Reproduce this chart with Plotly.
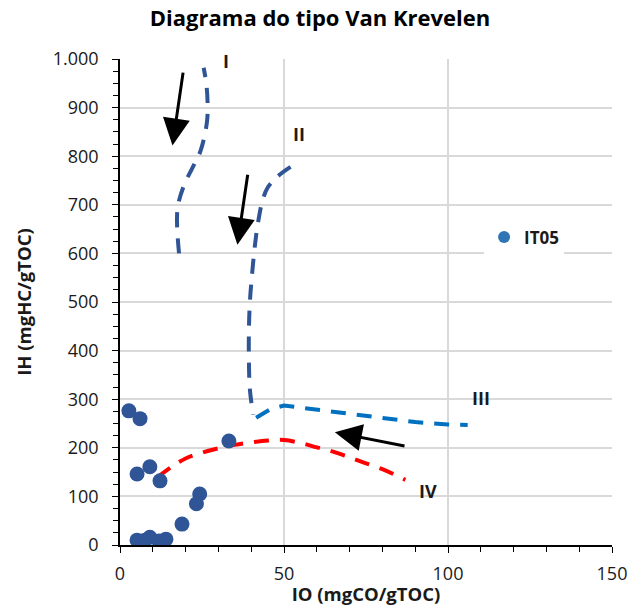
import plotly.graph_objects as go

# Sample data (IT05)
io_vals = [2.7, 6.1, 5.2, 9.1, 12.2, 33.2, 24.3, 23.3, 18.9, 5.2, 7.6, 9.1, 11.9, 14.0]
ih_vals = [276, 260, 146, 161, 132, 214, 105, 85, 43, 10, 10, 16, 8, 12]

# Kerogen type curves
curve1_x = [18, 17.5, 19.5, 22, 24.5, 26.5, 26.7, 26.3, 25.5]
curve1_y = [600, 690, 740, 775, 810, 870, 910, 950, 982]
curve2_x = [52, 48, 45, 43.5, 42, 41.2, 40.3, 39.6, 39.3, 39.3, 39.6, 40.6]
curve2_y = [778, 758, 735, 710, 660, 620, 560, 500, 440, 380, 320, 268]
curve3_x = [41.5, 46, 50, 60, 70, 80, 90, 100, 106]
curve3_y = [262, 280, 287, 279, 270, 261, 253, 248, 247]
curve4_x = [11.5, 16, 20, 25, 30, 35, 40, 45, 50, 55, 60, 65, 70, 75, 80, 87]
curve4_y = [140, 162, 178, 190, 199, 206, 211, 215, 216, 210, 201, 192, 180, 168, 156, 134]

curve_labels = ["I", "II", "III", "IV"]
label_x = [32.2, 54.5, 110, 94]
label_y = [996, 845, 303, 111]

# Arrows: (tail_x, tail_y, tip_x, tip_y)
arrow_tail_x = [19.3, 39.0, 87.2]
arrow_tail_y = [975, 765, 203]
arrow_tip_x = [16.0, 35.8, 65.5]
arrow_tip_y = [822, 618, 232]

x_tickvals = [0, 50, 100, 150]
x_ticktext = ["0", "50", "100", "150"]
y_tickvals = [0, 100, 200, 300, 400, 500, 600, 700, 800, 900, 1000]
y_ticktext = ["0", "100", "200", "300", "400", "500", "600", "700", "800", "900", "1.000"]

FONT = "Open Sans"
DASH = "15px,11px"

fig = go.Figure()

fig.add_trace(go.Scatter(x=curve1_x, y=curve1_y, mode="lines", showlegend=False,
                         line=dict(color="#2F5597", width=4, dash=DASH, shape="spline")))
fig.add_trace(go.Scatter(x=curve2_x, y=curve2_y, mode="lines", showlegend=False,
                         line=dict(color="#2F5597", width=4, dash=DASH, shape="spline")))
fig.add_trace(go.Scatter(x=curve3_x, y=curve3_y, mode="lines", showlegend=False,
                         line=dict(color="#0070C0", width=4, dash=DASH)))
fig.add_trace(go.Scatter(x=curve4_x, y=curve4_y, mode="lines", showlegend=False,
                         line=dict(color="#FF0000", width=4, dash=DASH, shape="spline")))

fig.add_trace(go.Scatter(x=io_vals, y=ih_vals, mode="markers", showlegend=False,
                         marker=dict(color="#2F5597", size=15)))
fig.add_trace(go.Scatter(x=[None], y=[None], mode="markers", name="IT05",
                         marker=dict(color="#2E75B6", size=12)))

for t, lx, ly in zip(curve_labels, label_x, label_y):
    fig.add_annotation(x=lx, y=ly, text=t, showarrow=False,
                       font=dict(family=FONT, size=18, color="#1a1a1a", weight="bold"))

for tx, ty, hx, hy in zip(arrow_tail_x, arrow_tail_y, arrow_tip_x, arrow_tip_y):
    fig.add_annotation(x=hx, y=hy, ax=tx, ay=ty, axref="x", ayref="y",
                       text="", showarrow=True, arrowhead=2, arrowsize=1.8,
                       arrowwidth=3, arrowcolor="black", standoff=0)

fig.update_layout(
    width=640, height=606,
    margin=dict(l=120, r=28, t=59, b=61),
    paper_bgcolor="white", plot_bgcolor="white",
    font=dict(family=FONT, size=18, color="#1a1a1a"),
    title=dict(text="<b>Diagrama do tipo Van Krevelen</b>", x=0.5, xanchor="center",
               y=0.97, yanchor="middle", font=dict(family=FONT, size=22, color="black")),
    legend=dict(x=0.74, y=0.633, xanchor="left", yanchor="middle",
                bgcolor="white", font=dict(family=FONT, size=17, color="#1a1a1a", weight="bold"),
                itemsizing="constant", borderwidth=0),
)

fig.update_xaxes(range=[0, 150], tickvals=x_tickvals, ticktext=x_ticktext,
                 showgrid=True, gridcolor="#D9D9D9", gridwidth=1.5,
                 showline=True, linecolor="black", linewidth=1.5,
                 ticks="outside", ticklen=6, tickcolor="black", ticklabelstandoff=6,
                 minor=dict(dtick=10, ticks="outside", ticklen=5, tickcolor="black", showgrid=False),
                 zeroline=False, tickfont=dict(size=18), automargin=False,
                 title=dict(text="<b>IO (mgCO/gTOC)</b>", font=dict(family=FONT, size=18.5), standoff=2))
fig.update_yaxes(range=[0, 1000], tickvals=y_tickvals, ticktext=y_ticktext,
                 showgrid=True, gridcolor="#D9D9D9", gridwidth=1.5,
                 showline=True, linecolor="black", linewidth=1.5,
                 ticks="outside", ticklen=6, tickcolor="black", ticklabelstandoff=10,
                 minor=dict(dtick=25, ticks="outside", ticklen=5, tickcolor="black", showgrid=False),
                 zeroline=False, tickfont=dict(size=18), automargin=False,
                 title=dict(text="<b>IH (mgHC/gTOC)</b>", font=dict(family=FONT, size=18.5), standoff=16))

fig.write_html("out.html")
